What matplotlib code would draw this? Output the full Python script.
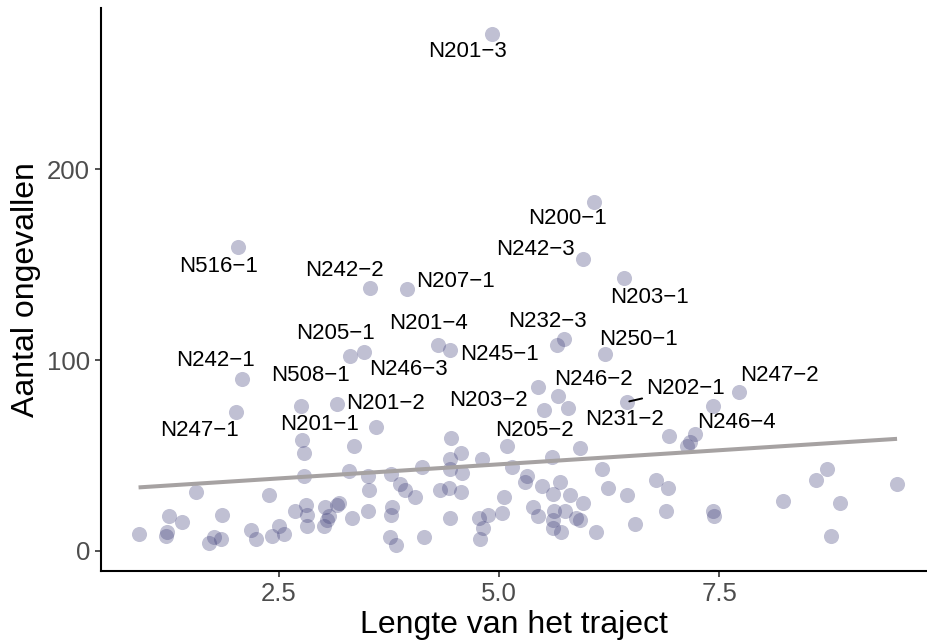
import numpy as np
import matplotlib
matplotlib.use('Agg')
import matplotlib.pyplot as plt

# lengte van het traject (km) en aantal ongevallen per traject
lengte = [4.92, 6.08, 5.96, 6.42, 5.74, 5.66, 6.20, 2.04, 3.54, 3.96,
          4.31, 4.44, 3.47, 3.31, 2.08, 2.02, 2.75, 3.16, 5.44, 5.67,
          5.51, 5.79, 6.45, 7.73, 7.43, 6.93, 7.23, 7.17, 7.14,
          2.76, 2.79, 2.79, 1.56, 2.39, 2.69, 2.81, 2.82, 2.82, 1.25,
          1.40, 1.86, 0.91, 1.23, 1.22, 1.77, 1.71, 1.85, 2.19, 2.24,
          2.50, 2.43, 2.56,
          3.61, 3.35, 3.30, 3.52, 3.53, 3.03, 3.07, 3.01, 3.05, 3.16,
          3.18, 3.33, 3.51, 3.77, 3.88, 3.94, 4.05, 3.79, 3.77, 3.76,
          3.83, 4.15, 4.13, 4.46, 4.57, 4.45, 4.44, 4.58, 4.33, 4.43,
          4.57, 4.44, 4.81, 5.06, 5.03, 4.88, 4.77, 4.82, 4.79, 5.09,
          5.15,
          5.32, 5.30, 5.49, 5.60, 5.69, 5.61, 5.81, 5.92, 6.17, 6.24,
          5.39, 5.44, 5.63, 5.75, 5.62, 5.61, 5.70, 5.96, 5.88, 5.92,
          6.10, 6.46, 6.78, 6.92, 6.55, 6.90, 7.43, 7.44, 8.22, 8.60,
          8.73, 8.87, 8.77, 9.52]
ongevallen = [271, 183, 153, 143, 111, 108, 103, 159, 138, 137,
              108, 105, 104, 102, 90, 73, 76, 77, 86, 81,
              74, 75, 78, 83, 76, 60, 61, 57, 55,
              58, 51, 39, 31, 29, 21, 24, 19, 13, 18,
              15, 19, 9, 10, 8, 7, 4, 6, 11, 6,
              13, 8, 9,
              65, 55, 42, 39, 32, 23, 18, 13, 16, 24,
              25, 17, 21, 40, 35, 32, 28, 23, 19, 7,
              3, 7, 44, 59, 51, 48, 43, 41, 32, 33,
              31, 17, 48, 28, 20, 19, 17, 12, 6, 55,
              44,
              39, 36, 34, 49, 36, 30, 29, 54, 43, 33,
              23, 18, 21, 21, 16, 12, 10, 25, 17, 16,
              10, 29, 37, 33, 14, 21, 21, 18, 26, 37,
              43, 25, 8, 35]

# labels (trajectnaam) met de plek van de tekst
label_namen = ['N201-3', 'N200-1', 'N242-3', 'N203-1', 'N232-3', 'N250-1',
               'N516-1', 'N242-2', 'N207-1', 'N201-4', 'N245-1', 'N205-1',
               'N508-1', 'N246-3', 'N242-1', 'N247-1', 'N201-1', 'N201-2',
               'N203-2', 'N205-2', 'N246-2', 'N231-2', 'N247-2', 'N246-4']
label_x = [4.64, 5.78, 5.41, 6.71, 5.55, 6.58, 1.82, 3.25, 4.51, 4.20, 5.01, 3.14,
           2.86, 3.97, 1.78, 1.60, 2.97, 3.71, 4.88, 5.40, 6.07, 6.43, 8.18, 7.70]
label_y = [262, 174, 158, 133, 120, 111, 149, 147, 141, 119, 103, 114,
           92, 95, 100, 63, 66, 77, 79, 63, 90, 69, 92, 67]


def plot_ongevallen():
    plt.rcParams['font.family'] = ['Liberation Sans', 'DejaVu Sans']
    fig = plt.figure(figsize=(9.27, 6.43), dpi=100)
    ax = fig.add_axes([0.109, 0.112, 0.891, 0.876])

    ax.scatter(lengte, ongevallen, s=118, color=(60/255, 60/255, 120/255),
               alpha=0.32, linewidths=0, zorder=2)

    # lineaire trend
    coef = np.polyfit(lengte, ongevallen, 1)
    xs = np.array([min(lengte), max(lengte)])
    ax.plot(xs, np.polyval(coef, xs), color='#A6A2A2', lw=2.9, zorder=3,
            solid_capstyle='butt')

    for naam, lx, ly in zip(label_namen, label_x, label_y):
        ax.text(lx, ly, naam.replace('-', '\u2212'), fontsize=16,
                ha='center', va='center', zorder=4)

    # N202-1 met lijntje naar het punt
    ax.annotate('N202\u22121', xy=(6.45, 78), xytext=(7.12, 85), fontsize=16,
                ha='center', va='center', zorder=4,
                arrowprops=dict(arrowstyle='-', color='black', lw=1.4,
                                shrinkA=1, shrinkB=2))

    ax.set_xlim(0.484, 9.86)
    ax.set_ylim(-10.6, 284.7)
    ax.set_xticks([2.5, 5.0, 7.5])
    ax.set_xticklabels(['2.5', '5.0', '7.5'])
    ax.set_yticks([0, 100, 200])
    ax.tick_params(labelsize=18.5, labelcolor='#4D4D4D', length=4.5, width=1.2,
                   color='#333333')
    for side in ['top', 'right']:
        ax.spines[side].set_visible(False)
    for side in ['left', 'bottom']:
        ax.spines[side].set_linewidth(1.5)

    ax.set_xlabel('Lengte van het traject', fontsize=23, labelpad=3)
    ax.set_ylabel('Aantal ongevallen', fontsize=23, labelpad=4)

    fig.savefig('out.png', dpi=100)


if __name__ == '__main__':
    plot_ongevallen()
